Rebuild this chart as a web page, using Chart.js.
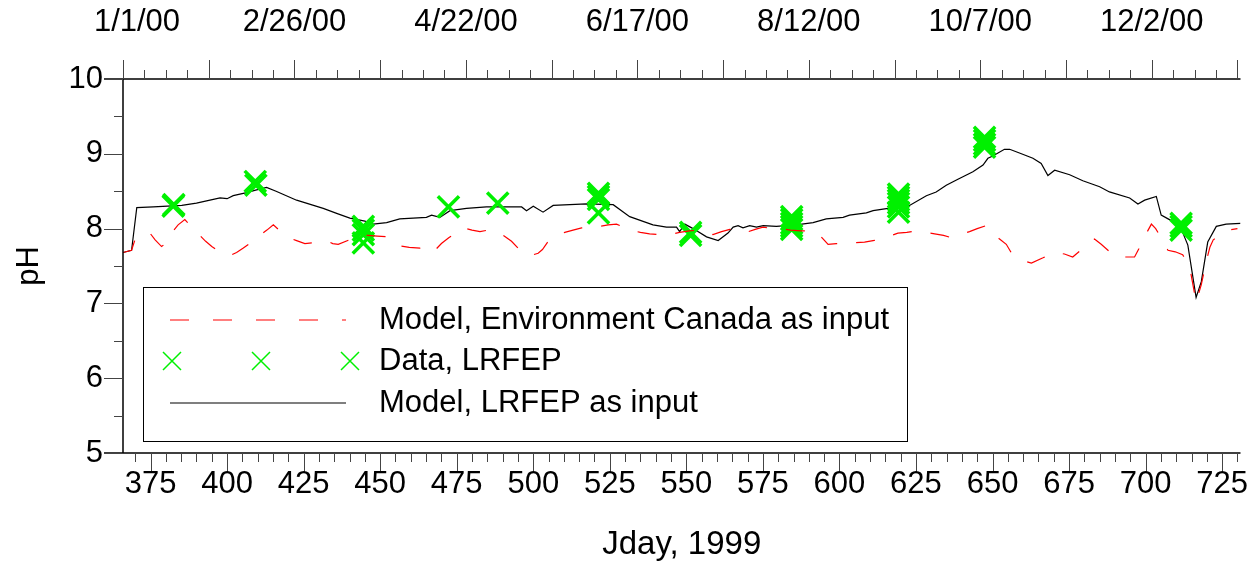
<!DOCTYPE html>
<html>
<head>
<meta charset="utf-8">
<script src="https://cdn.jsdelivr.net/npm/chart.js@4.4.1/dist/chart.umd.min.js"></script>
<style>
  html, body { margin: 0; padding: 0; background: #fff; }
  #wrap { width: 1259px; height: 561px; }
</style>
</head>
<body>
<div id="wrap"><canvas id="chart" width="1259" height="561"></canvas></div>
<script>
// Model run driven by Environment Canada inputs
const ecDays = [366, 368.8, 369.9, 372, 374.8, 376.5, 378.6, 380.5, 382.4, 384, 386.2, 388.5, 391.1, 393, 395, 398,
  400.9, 403.1, 405.3, 408, 410.7, 413, 415.1, 417.5, 420, 422.7, 425.4, 428, 430.9, 433, 434.5, 436.3, 440,
  443.4, 446, 449, 452.6, 454.5, 456.4, 459.5, 463, 466.2, 467.9, 470, 472.5, 475, 477.1, 480, 482.6, 485.3,
  488, 490.5, 492.9, 494.8, 496.7, 499, 501.6, 503, 504.9, 507.5, 510.3, 513, 515.8, 519, 521.7, 524.5, 527.2,
  530, 532.6, 535, 538, 541, 544.6, 547.8, 551, 554.4, 558.7, 561.5, 564.2, 567, 569.6, 572.5, 575, 578, 580.5,
  584, 587.6, 590, 592.5, 594.5, 596.3, 599, 602.3, 605, 608.2, 611, 613.7, 616.5, 619.1, 622, 625.1, 628,
  631.1, 634, 636.5, 639.5, 642.5, 645, 648, 650, 652.3, 654.5, 656.1, 658.5, 661, 662.7, 666.5, 668.5, 670.8,
  673.5, 676.2, 678.5, 681.2, 683.3, 685.5, 688, 690.4, 693.5, 696.4, 697.8, 699.1, 701.9, 703.3, 704.6, 707.3,
  709.7, 712.1, 714.3, 716.5, 718.2, 719.8, 721, 722.1, 724.5, 727, 730];
const ecPH = [7.68, 7.71, 7.85, 7.92, 7.94, 7.85, 7.76, 7.82, 7.97, 8.05, 8.12, 8.02, 7.91, 7.83, 7.76, 7.68,
  7.64, 7.68, 7.74, 7.82, 7.91, 7.98, 8.05, 7.96, 7.88, 7.84, 7.80, 7.81, 7.82, 7.83, 7.80, 7.79, 7.85,
  7.90, 7.91, 7.90, 7.89, 7.83, 7.77, 7.75, 7.74, 7.77, 7.71, 7.80, 7.88, 7.95, 8.01, 7.98, 7.96, 7.98,
  7.97, 7.90, 7.83, 7.75, 7.67, 7.64, 7.67, 7.72, 7.83, 7.90, 7.95, 7.98, 8.01, 8.02, 8.03, 8.05, 8.06,
  8.01, 7.97, 7.95, 7.93, 7.92, 7.92, 7.95, 7.97, 7.98, 7.92, 7.96, 7.99, 7.99, 7.95, 7.99, 8.02, 8.00, 8.00,
  7.98, 7.97, 7.97, 7.96, 7.87, 7.79, 7.80, 7.80, 7.81, 7.82, 7.84, 7.86, 7.90, 7.94, 7.95, 7.97, 7.95,
  7.93, 7.91, 7.88, 7.92, 7.96, 8.00, 8.04, 7.95, 7.86, 7.79, 7.68, 7.61, 7.56, 7.54, 7.61, 7.65, 7.68,
  7.66, 7.62, 7.70, 7.80, 7.86, 7.79, 7.70, 7.62, 7.62, 7.62, 7.73, 7.85, 8.06, 8.00, 7.91, 7.71,
  7.69, 7.65, 7.51, 7.02, 7.25, 7.56, 7.75, 7.85, 7.92, 7.98, 8.00];

// LRFEP observations
const obsDays = [382.4, 382.6, 409.2, 409.4, 444.5, 444.5, 444.5, 444.5, 472.3, 488.4, 521.3, 521.3, 521.3,
  521.3, 551.4, 551.4, 584.4, 584.4, 584.4, 584.4, 584.4, 619.3, 619.3, 619.3, 619.3, 619.3, 619.3,
  647.4, 647.4, 647.4, 647.4, 711.6, 711.6, 711.6];
const obsPH = [8.30, 8.32, 8.63, 8.58, 8.03, 7.98, 7.92, 7.81, 8.29, 8.34, 8.47, 8.43, 8.39, 8.21,
  7.95, 7.91, 8.16, 8.12, 8.07, 8.03, 7.99, 8.46, 8.42, 8.38, 8.34, 8.29, 8.22,
  9.22, 9.18, 9.13, 9.09, 8.07, 8.03, 7.98];

// Model run driven by LRFEP inputs
const lrDays = [366, 368.8, 370.5, 375.9, 385.2, 390, 394.4, 397.7, 400, 402, 406.4, 409, 412.9, 416, 422.7,
  431.4, 436, 440.1, 445, 447.7, 452.1, 456.4, 465.1, 466.8, 469.5, 472.8, 478.2, 484.7, 493.4, 496.2, 497.8,
  500, 503.2, 506.5, 517.4, 526.1, 531.5, 539.1, 543.5, 546.8, 547.8, 549.5, 552.2, 556.6, 560.4, 563.6,
  565.3, 566.9, 568.5, 570.7, 572.9, 575.1, 579.4, 585.9, 591.4, 595.7, 601.2, 603.3, 608.8, 611, 617.5,
  622.9, 628.4, 631.6, 634.9, 638.7, 643.6, 646.9, 648.5, 650.1, 653.9, 655.6, 658.8, 663.2, 665.9, 668.1,
  670.3, 675.2, 679.5, 685, 688.2, 694.8, 697.5, 699.7, 703.5, 705.1, 707.8, 711.1, 713.8, 716.5, 718.2,
  720.3, 723.1, 726.3, 731];
const lrPH = [7.68, 7.71, 8.28, 8.29, 8.31, 8.34, 8.38, 8.41, 8.40, 8.44, 8.48, 8.51, 8.55, 8.50, 8.38,
  8.27, 8.20, 8.14, 8.10, 8.06, 8.08, 8.13, 8.15, 8.18, 8.15, 8.24, 8.27, 8.29, 8.29, 8.29, 8.24,
  8.30, 8.22, 8.31, 8.33, 8.32, 8.16, 8.05, 8.02, 8.02, 7.96, 8.06, 8.00, 7.89, 7.84, 7.94,
  8.02, 8.04, 8.01, 8.04, 8.02, 8.04, 8.03, 8.05, 8.08, 8.13, 8.15, 8.18, 8.21, 8.24, 8.28,
  8.31, 8.44, 8.49, 8.58, 8.66, 8.76, 8.85, 8.94, 8.97, 9.06, 9.06, 9.01, 8.94, 8.87, 8.71,
  8.78, 8.72, 8.64, 8.56, 8.49, 8.41, 8.33, 8.38, 8.43, 8.18, 8.12, 8.05, 7.78, 7.08, 7.29,
  7.82, 8.03, 8.06, 8.07];

// calendar labels along the top axis
const topLabelDays = [366, 422, 478, 534, 590, 646, 702];
const topLabels = ['1/1/00', '2/26/00', '4/22/00', '6/17/00', '8/12/00', '10/7/00', '12/2/00'];

const legendLabels = ['Model, Environment Canada as input', 'Data, LRFEP', 'Model, LRFEP as input'];

const FAMILY = '"Liberation Sans", Arial, Helvetica, sans-serif';
const FONT = '31px ' + FAMILY;
const TITLE_FONT = '33px ' + FAMILY;
const GREEN = '#00f000';
const RED = '#ff0000';

const xy = (xs, ys) => xs.map((d, i) => ({ x: d, y: ys[i] }));

function drawX(ctx, cx, cy, h, lw) {
  ctx.save();
  ctx.strokeStyle = GREEN;
  ctx.lineWidth = lw;
  ctx.beginPath();
  ctx.moveTo(cx - h, cy - h); ctx.lineTo(cx + h, cy + h);
  ctx.moveTo(cx - h, cy + h); ctx.lineTo(cx + h, cy - h);
  ctx.stroke();
  ctx.restore();
}

const axesPlugin = {
  id: 'frameAxes',
  afterDraw(chart) {
    const { ctx, chartArea: a, scales: { x, y } } = chart;
    ctx.save();
    ctx.strokeStyle = '#000';
    ctx.fillStyle = '#000';

    // frame: left, top, bottom
    ctx.lineWidth = 1.5;
    ctx.beginPath();
    ctx.moveTo(a.left, a.bottom); ctx.lineTo(a.left, a.top);
    ctx.moveTo(a.left - 19, a.top); ctx.lineTo(a.right, a.top);
    ctx.moveTo(a.left - 19, a.bottom); ctx.lineTo(a.right, a.bottom);
    ctx.stroke();

    ctx.lineWidth = 1;
    ctx.strokeStyle = '#444';
    ctx.beginPath();
    // y ticks
    for (let v = 5; v <= 10.001; v += 0.5) {
      const py = Math.round(y.getPixelForValue(v)) + 0.5;
      const len = Number.isInteger(v) ? 19 : 9;
      ctx.moveTo(a.left - len, py); ctx.lineTo(a.left, py);
    }
    // bottom ticks, every 5 days
    for (let d = 370; d <= x.max; d += 5) {
      const px = Math.round(x.getPixelForValue(d)) + 0.5;
      const len = d % 25 === 0 ? 19 : 9;
      ctx.moveTo(px, a.bottom); ctx.lineTo(px, a.bottom + len);
    }
    // top ticks, weekly
    for (let d = 366; d <= x.max; d += 7) {
      const px = Math.round(x.getPixelForValue(d)) + 0.5;
      const len = (d - 366) % 28 === 0 ? 19 : 9;
      ctx.moveTo(px, a.top); ctx.lineTo(px, a.top - len);
    }
    ctx.stroke();

    ctx.font = FONT;
    ctx.textBaseline = 'middle';
    ctx.textAlign = 'right';
    for (let v = 5; v <= 10; v++) {
      ctx.fillText(String(v), a.left - 20, y.getPixelForValue(v));
    }
    ctx.textAlign = 'center';
    for (let d = 375; d <= 725; d += 25) {
      ctx.fillText(String(d), x.getPixelForValue(d), a.bottom + 31);
    }
    topLabelDays.forEach((d, i) => {
      // keep the first date clear of the "10" label
      const px = Math.max(x.getPixelForValue(d), a.left + 14);
      ctx.fillText(topLabels[i], px, a.top - 57);
    });

    // axis titles
    ctx.font = TITLE_FONT;
    ctx.fillText('Jday, 1999', (a.left + a.right) / 2, a.bottom + 92);
    ctx.font = FONT;
    ctx.save();
    ctx.translate(29, (a.top + a.bottom) / 2);
    ctx.rotate(-Math.PI / 2);
    ctx.fillText('pH', 0, 0);
    ctx.restore();

    // legend box
    const lx = 143, ly = 287, lw = 764, lh = 154;
    ctx.fillStyle = '#fff';
    ctx.fillRect(lx, ly, lw, lh);
    ctx.strokeStyle = '#000';
    ctx.lineWidth = 1;
    ctx.strokeRect(lx + 0.5, ly + 0.5, lw, lh);

    const rows = [320, 361, 403];
    ctx.lineWidth = 1.2;
    ctx.strokeStyle = RED;
    ctx.setLineDash([19, 24]);
    ctx.beginPath(); ctx.moveTo(170, rows[0]); ctx.lineTo(346, rows[0]); ctx.stroke();
    ctx.setLineDash([]);
    [172, 261, 350].forEach(px => drawX(ctx, px, rows[1], 9, 1.5));
    ctx.strokeStyle = '#000';
    ctx.beginPath(); ctx.moveTo(170, rows[2]); ctx.lineTo(346, rows[2]); ctx.stroke();

    ctx.fillStyle = '#000';
    ctx.textAlign = 'left';
    legendLabels.forEach((t, i) => ctx.fillText(t, 379, rows[i]));
    ctx.restore();
  }
};

new Chart(document.getElementById('chart'), {
  type: 'line',
  data: {
    datasets: [
      {
        label: legendLabels[0],
        data: xy(ecDays, ecPH),
        borderColor: RED,
        borderWidth: 1.2,
        borderDash: [19, 19],
        pointRadius: 0,
        tension: 0
      },
      {
        label: legendLabels[1],
        data: xy(obsDays, obsPH),
        showLine: false,
        pointStyle: 'crossRot',
        pointRadius: 15,
        pointBorderWidth: 3.5,
        pointBorderColor: GREEN,
        borderColor: GREEN
      },
      {
        label: legendLabels[2],
        data: xy(lrDays, lrPH),
        borderColor: '#000',
        borderWidth: 1.2,
        pointRadius: 0,
        tension: 0
      }
    ]
  },
  options: {
    responsive: false,
    animation: false,
    devicePixelRatio: 1,
    layout: { padding: { left: 123, right: 18, top: 79, bottom: 108 } },
    plugins: { legend: { display: false }, tooltip: { enabled: false } },
    scales: {
      x: { type: 'linear', min: 366, max: 731, display: false },
      y: { min: 5, max: 10, display: false }
    }
  },
  plugins: [axesPlugin]
});
</script>
</body>
</html>
